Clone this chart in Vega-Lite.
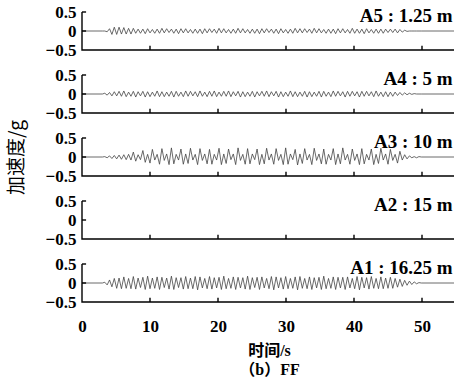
{
"$schema":"https://vega.github.io/schema/vega-lite/v6.json",
"padding":{"left":7,"top":3,"right":0,"bottom":0},
"spacing":25,
"bounds":"flush",
"config":{"view":{"stroke":null},"axis":{"labelOverlap":false}},
"datasets":{
"fr":[
{"g":"f","o":1,"fx":0,"fy":0.5},{"g":"f","o":2,"fx":0,"fy":-0.5},{"g":"f","o":3,"fx":55,"fy":-0.5},
{"g":"x10","o":1,"fx":10,"fy":-0.5},{"g":"x10","o":2,"fx":10,"fy":-0.39},
{"g":"x20","o":1,"fx":20,"fy":-0.5},{"g":"x20","o":2,"fx":20,"fy":-0.39},
{"g":"x30","o":1,"fx":30,"fy":-0.5},{"g":"x30","o":2,"fx":30,"fy":-0.39},
{"g":"x40","o":1,"fx":40,"fy":-0.5},{"g":"x40","o":2,"fx":40,"fy":-0.39},
{"g":"x50","o":1,"fx":50,"fy":-0.5},{"g":"x50","o":2,"fx":50,"fy":-0.39},
{"g":"x55","o":1,"fx":55,"fy":-0.5},{"g":"x55","o":2,"fx":55,"fy":-0.39},
{"g":"y0","o":1,"fx":0,"fy":0},{"g":"y0","o":2,"fx":0.6,"fy":0},
{"g":"y5","o":1,"fx":0,"fy":0.5},{"g":"y5","o":2,"fx":0.6,"fy":0.5}
]
},
"data":{"values":[
{"t":0,"a1":0,"a2":0,"a3":0,"a4":0,"a5":0},
{"t":3.0,"a1":0,"a3":0,"a4":0,"a5":0},
{"t":3.35,"a1":0.02,"a3":0.01,"a4":0.02,"a5":0},
{"t":3.70,"a1":-0.05,"a3":-0.02,"a4":-0.03,"a5":-0.02},
{"t":4.05,"a1":0.08,"a3":0.03,"a4":0.04,"a5":0.06},
{"t":4.40,"a1":-0.10,"a3":-0.04,"a4":-0.05,"a5":-0.09},
{"t":4.75,"a1":0.12,"a3":0.04,"a4":0.06,"a5":0.10},
{"t":5.10,"a1":-0.14,"a3":-0.05,"a4":-0.05,"a5":-0.09},
{"t":5.45,"a1":0.13,"a3":0.05,"a4":0.07,"a5":0.10},
{"t":5.80,"a1":-0.15,"a3":-0.06,"a4":-0.06,"a5":-0.08},
{"t":6.15,"a1":0.16,"a3":0.06,"a4":0.08,"a5":0.09},
{"t":6.50,"a1":-0.14,"a3":-0.07,"a4":-0.07,"a5":-0.08},
{"t":6.85,"a1":0.12,"a3":0.07,"a4":0.05,"a5":0.07},
{"t":7.20,"a1":-0.15,"a3":-0.08,"a4":-0.06,"a5":-0.08},
{"t":7.55,"a1":0.17,"a3":0.13,"a4":0.07,"a5":0.07},
{"t":7.90,"a1":-0.16,"a3":-0.11,"a4":-0.08,"a5":-0.06},
{"t":8.25,"a1":0.13,"a3":0.06,"a4":0.06,"a5":0.05},
{"t":8.60,"a1":-0.12,"a3":-0.07,"a4":-0.05,"a5":-0.06},
{"t":8.95,"a1":0.15,"a3":0.17,"a4":0.07,"a5":0.05},
{"t":9.30,"a1":-0.17,"a3":-0.14,"a4":-0.08,"a5":-0.07},
{"t":9.65,"a1":0.18,"a3":0.07,"a4":0.06,"a5":0.06},
{"t":10.00,"a1":-0.15,"a3":-0.16,"a4":-0.07,"a5":-0.05},
{"t":10.35,"a1":0.13,"a3":0.20,"a4":0.05,"a5":0.04},
{"t":10.70,"a1":-0.14,"a3":-0.08,"a4":-0.06,"a5":-0.06},
{"t":11.05,"a1":0.16,"a3":0.07,"a4":0.08,"a5":0.05},
{"t":11.40,"a1":-0.17,"a3":-0.19,"a4":-0.07,"a5":-0.06},
{"t":11.75,"a1":0.15,"a3":0.22,"a4":0.06,"a5":0.07},
{"t":12.10,"a1":-0.12,"a3":-0.09,"a4":-0.07,"a5":-0.05},
{"t":12.45,"a1":0.13,"a3":0.08,"a4":0.05,"a5":0.06},
{"t":12.80,"a1":-0.16,"a3":-0.20,"a4":-0.06,"a5":-0.04},
{"t":13.15,"a1":0.18,"a3":0.24,"a4":0.07,"a5":0.05},
{"t":13.50,"a1":-0.17,"a3":-0.18,"a4":-0.08,"a5":-0.06},
{"t":13.85,"a1":0.14,"a3":0.07,"a4":0.07,"a5":0.05},
{"t":14.20,"a1":-0.12,"a3":-0.08,"a4":-0.06,"a5":-0.07},
{"t":14.55,"a1":0.14,"a3":0.21,"a4":0.05,"a5":0.06},
{"t":14.90,"a1":-0.16,"a3":-0.19,"a4":-0.07,"a5":-0.05},
{"t":15.25,"a1":0.17,"a3":0.08,"a4":0.08,"a5":0.06},
{"t":15.60,"a1":-0.15,"a3":-0.17,"a4":-0.06,"a5":-0.05},
{"t":15.95,"a1":0.13,"a3":0.23,"a4":0.07,"a5":0.04},
{"t":16.30,"a1":-0.15,"a3":-0.08,"a4":-0.05,"a5":-0.06},
{"t":16.65,"a1":0.17,"a3":0.07,"a4":0.06,"a5":0.05},
{"t":17.00,"a1":-0.18,"a3":-0.20,"a4":-0.07,"a5":-0.06},
{"t":17.35,"a1":0.16,"a3":0.22,"a4":0.08,"a5":0.05},
{"t":17.70,"a1":-0.13,"a3":-0.09,"a4":-0.06,"a5":-0.07},
{"t":18.05,"a1":0.12,"a3":0.08,"a4":0.05,"a5":0.06},
{"t":18.40,"a1":-0.15,"a3":-0.18,"a4":-0.07,"a5":-0.05},
{"t":18.75,"a1":0.17,"a3":0.20,"a4":0.07,"a5":0.06},
{"t":19.10,"a1":-0.16,"a3":-0.19,"a4":-0.06,"a5":-0.04},
{"t":19.45,"a1":0.14,"a3":0.07,"a4":0.08,"a5":0.05},
{"t":19.80,"a1":-0.13,"a3":-0.08,"a4":-0.07,"a5":-0.06},
{"t":20.15,"a1":0.15,"a3":0.23,"a4":0.05,"a5":0.07},
{"t":20.50,"a1":-0.17,"a3":-0.20,"a4":-0.06,"a5":-0.05},
{"t":20.85,"a1":0.18,"a3":0.08,"a4":0.07,"a5":0.06},
{"t":21.20,"a1":-0.15,"a3":-0.17,"a4":-0.06,"a5":-0.05},
{"t":21.55,"a1":0.12,"a3":0.21,"a4":0.08,"a5":0.04},
{"t":21.90,"a1":-0.14,"a3":-0.07,"a4":-0.07,"a5":-0.06},
{"t":22.25,"a1":0.16,"a3":0.08,"a4":0.06,"a5":0.05},
{"t":22.60,"a1":-0.17,"a3":-0.20,"a4":-0.05,"a5":-0.06},
{"t":22.95,"a1":0.15,"a3":0.24,"a4":0.07,"a5":0.07},
{"t":23.30,"a1":-0.13,"a3":-0.09,"a4":-0.08,"a5":-0.05},
{"t":23.65,"a1":0.14,"a3":0.07,"a4":0.06,"a5":0.06},
{"t":24.00,"a1":-0.16,"a3":-0.19,"a4":-0.07,"a5":-0.05},
{"t":24.35,"a1":0.18,"a3":0.22,"a4":0.05,"a5":0.04},
{"t":24.70,"a1":-0.17,"a3":-0.18,"a4":-0.06,"a5":-0.06},
{"t":25.05,"a1":0.14,"a3":0.08,"a4":0.07,"a5":0.05},
{"t":25.40,"a1":-0.12,"a3":-0.07,"a4":-0.08,"a5":-0.06},
{"t":25.75,"a1":0.15,"a3":0.21,"a4":0.06,"a5":0.05},
{"t":26.10,"a1":-0.17,"a3":-0.20,"a4":-0.05,"a5":-0.07},
{"t":26.45,"a1":0.16,"a3":0.07,"a4":0.07,"a5":0.06},
{"t":26.80,"a1":-0.13,"a3":-0.18,"a4":-0.06,"a5":-0.05},
{"t":27.15,"a1":0.12,"a3":0.23,"a4":0.08,"a5":0.06},
{"t":27.50,"a1":-0.15,"a3":-0.08,"a4":-0.07,"a5":-0.04},
{"t":27.85,"a1":0.17,"a3":0.08,"a4":0.06,"a5":0.05},
{"t":28.20,"a1":-0.18,"a3":-0.19,"a4":-0.05,"a5":-0.06},
{"t":28.55,"a1":0.16,"a3":0.22,"a4":0.07,"a5":0.05},
{"t":28.90,"a1":-0.13,"a3":-0.09,"a4":-0.08,"a5":-0.07},
{"t":29.25,"a1":0.14,"a3":0.07,"a4":0.06,"a5":0.06},
{"t":29.60,"a1":-0.16,"a3":-0.20,"a4":-0.07,"a5":-0.05},
{"t":29.95,"a1":0.17,"a3":0.24,"a4":0.05,"a5":0.04},
{"t":30.30,"a1":-0.15,"a3":-0.19,"a4":-0.06,"a5":-0.06},
{"t":30.65,"a1":0.12,"a3":0.08,"a4":0.08,"a5":0.05},
{"t":31.00,"a1":-0.14,"a3":-0.07,"a4":-0.07,"a5":-0.06},
{"t":31.35,"a1":0.16,"a3":0.20,"a4":0.06,"a5":0.07},
{"t":31.70,"a1":-0.18,"a3":-0.21,"a4":-0.07,"a5":-0.05},
{"t":32.05,"a1":0.17,"a3":0.08,"a4":0.05,"a5":0.06},
{"t":32.40,"a1":-0.14,"a3":-0.17,"a4":-0.06,"a5":-0.05},
{"t":32.75,"a1":0.12,"a3":0.22,"a4":0.07,"a5":0.06},
{"t":33.10,"a1":-0.15,"a3":-0.08,"a4":-0.08,"a5":-0.04},
{"t":33.45,"a1":0.16,"a3":0.07,"a4":0.06,"a5":0.05},
{"t":33.80,"a1":-0.17,"a3":-0.20,"a4":-0.07,"a5":-0.06},
{"t":34.15,"a1":0.14,"a3":0.23,"a4":0.05,"a5":0.07},
{"t":34.50,"a1":-0.13,"a3":-0.09,"a4":-0.06,"a5":-0.05},
{"t":34.85,"a1":0.15,"a3":0.08,"a4":0.07,"a5":0.06},
{"t":35.20,"a1":-0.17,"a3":-0.18,"a4":-0.08,"a5":-0.05},
{"t":35.55,"a1":0.18,"a3":0.21,"a4":0.07,"a5":0.04},
{"t":35.90,"a1":-0.15,"a3":-0.19,"a4":-0.06,"a5":-0.06},
{"t":36.25,"a1":0.12,"a3":0.07,"a4":0.05,"a5":0.05},
{"t":36.60,"a1":-0.14,"a3":-0.08,"a4":-0.07,"a5":-0.06},
{"t":36.95,"a1":0.16,"a3":0.22,"a4":0.08,"a5":0.05},
{"t":37.30,"a1":-0.17,"a3":-0.20,"a4":-0.06,"a5":-0.07},
{"t":37.65,"a1":0.15,"a3":0.08,"a4":0.07,"a5":0.06},
{"t":38.00,"a1":-0.13,"a3":-0.18,"a4":-0.05,"a5":-0.05},
{"t":38.35,"a1":0.15,"a3":0.24,"a4":0.06,"a5":0.06},
{"t":38.70,"a1":-0.17,"a3":-0.08,"a4":-0.08,"a5":-0.05},
{"t":39.05,"a1":0.16,"a3":0.07,"a4":0.07,"a5":0.04},
{"t":39.40,"a1":-0.13,"a3":-0.19,"a4":-0.06,"a5":-0.06},
{"t":39.75,"a1":0.12,"a3":0.21,"a4":0.07,"a5":0.07},
{"t":40.10,"a1":-0.15,"a3":-0.09,"a4":-0.05,"a5":-0.06},
{"t":40.45,"a1":0.17,"a3":0.08,"a4":0.06,"a5":0.05},
{"t":40.80,"a1":-0.18,"a3":-0.20,"a4":-0.08,"a5":-0.06},
{"t":41.15,"a1":0.15,"a3":0.22,"a4":0.07,"a5":0.05},
{"t":41.50,"a1":-0.13,"a3":-0.18,"a4":-0.06,"a5":-0.07},
{"t":41.85,"a1":0.14,"a3":0.07,"a4":0.07,"a5":0.06},
{"t":42.20,"a1":-0.16,"a3":-0.08,"a4":-0.05,"a5":-0.05},
{"t":42.55,"a1":0.17,"a3":0.21,"a4":0.06,"a5":0.04},
{"t":42.90,"a1":-0.14,"a3":-0.20,"a4":-0.07,"a5":-0.06},
{"t":43.25,"a1":0.12,"a3":0.07,"a4":0.08,"a5":0.05},
{"t":43.60,"a1":-0.15,"a3":-0.17,"a4":-0.06,"a5":-0.06},
{"t":43.95,"a1":0.16,"a3":0.23,"a4":0.05,"a5":0.05},
{"t":44.30,"a1":-0.15,"a3":-0.08,"a4":-0.07,"a5":-0.06},
{"t":44.65,"a1":0.13,"a3":0.08,"a4":0.06,"a5":0.05},
{"t":45.00,"a1":-0.14,"a3":-0.19,"a4":-0.07,"a5":-0.04},
{"t":45.35,"a1":0.15,"a3":0.20,"a4":0.05,"a5":0.05},
{"t":45.70,"a1":-0.14,"a3":-0.09,"a4":-0.06,"a5":-0.04},
{"t":46.05,"a1":0.12,"a3":0.07,"a4":0.05,"a5":0.05},
{"t":46.40,"a1":-0.11,"a3":-0.16,"a4":-0.04,"a5":-0.05},
{"t":46.75,"a1":0.10,"a3":0.15,"a4":0.04,"a5":0.04},
{"t":47.10,"a1":-0.09,"a3":-0.08,"a4":-0.03,"a5":-0.03},
{"t":47.45,"a1":0.07,"a3":0.06,"a4":0.03,"a5":0.02},
{"t":47.80,"a1":-0.06,"a3":-0.05,"a4":-0.02,"a5":-0.01},
{"t":48.15,"a1":0.05,"a3":0.03,"a4":0.02,"a5":0},
{"t":48.50,"a1":-0.04,"a3":-0.02,"a4":-0.01,"a5":0},
{"t":48.85,"a1":0.03,"a3":0.01,"a4":0.01,"a5":0},
{"t":49.20,"a1":-0.02,"a3":-0.02,"a4":0,"a5":0},
{"t":49.55,"a1":0.01,"a3":0.01,"a4":0,"a5":0},
{"t":49.90,"a1":0,"a3":0,"a4":0,"a5":0},
{"t":55,"a1":0,"a2":0,"a3":0,"a4":0,"a5":0}
]},
"vconcat":[
 {"width":374,"height":38,"resolve":{"axis":{"x":"independent","y":"independent"}},"layer":[
  {"mark":{"type":"line","stroke":"#444","strokeWidth":0.8},"encoding":{"x":{"field":"t","type":"quantitative","scale":{"domain":[0,55]},"axis":{"domain":false,"ticks":false,"labels":false,"grid":false,"title":null}},"y":{"field":"a5","type":"quantitative","scale":{"domain":[-0.5,0.5]},"axis":{"domain":false,"ticks":false,"values":[-0.5,0,0.5],"format":".1~f","labelOverlap":false,"labelFont":"Liberation Serif","labelFontSize":17,"labelFontWeight":"bold","labelColor":"black","labelPadding":6,"grid":false,"title":null}}}},
  {"data":{"name":"fr"},"mark":{"type":"line","stroke":"black","strokeWidth":1.4},"encoding":{"x":{"field":"fx","type":"quantitative","axis":null},"y":{"field":"fy","type":"quantitative","axis":null},"detail":{"field":"g"},"order":{"field":"o"}}},
  {"data":{"values":[{"l":"A5 : 1.25 m"}]},"mark":{"type":"text","font":"Liberation Serif","fontSize":19,"fontWeight":"bold","align":"right","baseline":"alphabetic","color":"black"},"encoding":{"text":{"field":"l"},"x":{"datum":54.5,"axis":null},"y":{"datum":0.23,"axis":null}}}
 ]},
 {"width":374,"height":38,"resolve":{"axis":{"x":"independent","y":"independent"}},"layer":[
  {"mark":{"type":"line","stroke":"#444","strokeWidth":0.8},"encoding":{"x":{"field":"t","type":"quantitative","scale":{"domain":[0,55]},"axis":{"domain":false,"ticks":false,"labels":false,"grid":false,"title":null}},"y":{"field":"a4","type":"quantitative","scale":{"domain":[-0.5,0.5]},"axis":{"domain":false,"ticks":false,"values":[-0.5,0,0.5],"format":".1~f","labelOverlap":false,"labelFont":"Liberation Serif","labelFontSize":17,"labelFontWeight":"bold","labelColor":"black","labelPadding":6,"grid":false,"title":null}}}},
  {"data":{"name":"fr"},"mark":{"type":"line","stroke":"black","strokeWidth":1.4},"encoding":{"x":{"field":"fx","type":"quantitative","axis":null},"y":{"field":"fy","type":"quantitative","axis":null},"detail":{"field":"g"},"order":{"field":"o"}}},
  {"data":{"values":[{"l":"A4 : 5 m"}]},"mark":{"type":"text","font":"Liberation Serif","fontSize":19,"fontWeight":"bold","align":"right","baseline":"alphabetic","color":"black"},"encoding":{"text":{"field":"l"},"x":{"datum":54.5,"axis":null},"y":{"datum":0.23,"axis":null}}}
 ]},
 {"width":374,"height":38,"resolve":{"axis":{"x":"independent","y":"independent"}},"layer":[
  {"mark":{"type":"line","stroke":"#444","strokeWidth":0.8},"encoding":{"x":{"field":"t","type":"quantitative","scale":{"domain":[0,55]},"axis":{"domain":false,"ticks":false,"labels":false,"grid":false,"title":null}},"y":{"field":"a3","type":"quantitative","scale":{"domain":[-0.5,0.5]},"axis":{"domain":false,"ticks":false,"values":[-0.5,0,0.5],"format":".1~f","labelOverlap":false,"labelFont":"Liberation Serif","labelFontSize":17,"labelFontWeight":"bold","labelColor":"black","labelPadding":6,"grid":false,"title":"加速度/g","titleFont":"Noto Sans CJK SC","titleFontSize":19,"titleFontWeight":"normal","titleColor":"black","titlePadding":19}}}},
  {"data":{"name":"fr"},"mark":{"type":"line","stroke":"black","strokeWidth":1.4},"encoding":{"x":{"field":"fx","type":"quantitative","axis":null},"y":{"field":"fy","type":"quantitative","axis":null},"detail":{"field":"g"},"order":{"field":"o"}}},
  {"data":{"values":[{"l":"A3 : 10 m"}]},"mark":{"type":"text","font":"Liberation Serif","fontSize":19,"fontWeight":"bold","align":"right","baseline":"alphabetic","color":"black"},"encoding":{"text":{"field":"l"},"x":{"datum":54.5,"axis":null},"y":{"datum":0.23,"axis":null}}}
 ]},
 {"width":374,"height":38,"resolve":{"axis":{"x":"independent","y":"independent"}},"layer":[
  {"mark":{"type":"line","stroke":"#444","strokeWidth":0.8},"encoding":{"x":{"field":"t","type":"quantitative","scale":{"domain":[0,55]},"axis":{"domain":false,"ticks":false,"labels":false,"grid":false,"title":null}},"y":{"field":"a2","type":"quantitative","scale":{"domain":[-0.5,0.5]},"axis":{"domain":false,"ticks":false,"values":[-0.5,0,0.5],"format":".1~f","labelOverlap":false,"labelFont":"Liberation Serif","labelFontSize":17,"labelFontWeight":"bold","labelColor":"black","labelPadding":6,"grid":false,"title":null}}}},
  {"data":{"name":"fr"},"mark":{"type":"line","stroke":"black","strokeWidth":1.4},"encoding":{"x":{"field":"fx","type":"quantitative","axis":null},"y":{"field":"fy","type":"quantitative","axis":null},"detail":{"field":"g"},"order":{"field":"o"}}},
  {"data":{"values":[{"l":"A2 : 15 m"}]},"mark":{"type":"text","font":"Liberation Serif","fontSize":19,"fontWeight":"bold","align":"right","baseline":"alphabetic","color":"black"},"encoding":{"text":{"field":"l"},"x":{"datum":54.5,"axis":null},"y":{"datum":0.23,"axis":null}}}
 ]},
 {"width":374,"height":38,"resolve":{"axis":{"x":"independent","y":"independent"}},"layer":[
  {"mark":{"type":"line","stroke":"#444","strokeWidth":0.8},"encoding":{"x":{"field":"t","type":"quantitative","scale":{"domain":[0,55]},"axis":{"domain":false,"ticks":false,"values":[0,10,20,30,40,50],"labels":true,"labelFont":"Liberation Serif","labelFontSize":17,"labelFontWeight":"bold","labelColor":"black","labelPadding":16,"labelFlush":false,"grid":false,"title":["时间/s","（b）FF"],"titleFont":"Liberation Serif, Noto Sans CJK SC","titleFontSize":16,"titleFontWeight":"bold","titleColor":"black","titleLineHeight":19,"titlePadding":8}},"y":{"field":"a1","type":"quantitative","scale":{"domain":[-0.5,0.5]},"axis":{"domain":false,"ticks":false,"values":[-0.5,0,0.5],"format":".1~f","labelOverlap":false,"labelFont":"Liberation Serif","labelFontSize":17,"labelFontWeight":"bold","labelColor":"black","labelPadding":6,"grid":false,"title":null}}}},
  {"data":{"name":"fr"},"mark":{"type":"line","stroke":"black","strokeWidth":1.4},"encoding":{"x":{"field":"fx","type":"quantitative","axis":null},"y":{"field":"fy","type":"quantitative","axis":null},"detail":{"field":"g"},"order":{"field":"o"}}},
  {"data":{"values":[{"l":"A1 : 16.25 m"}]},"mark":{"type":"text","font":"Liberation Serif","fontSize":19,"fontWeight":"bold","align":"right","baseline":"alphabetic","color":"black"},"encoding":{"text":{"field":"l"},"x":{"datum":54.5,"axis":null},"y":{"datum":0.23,"axis":null}}}
 ]}
]
}
